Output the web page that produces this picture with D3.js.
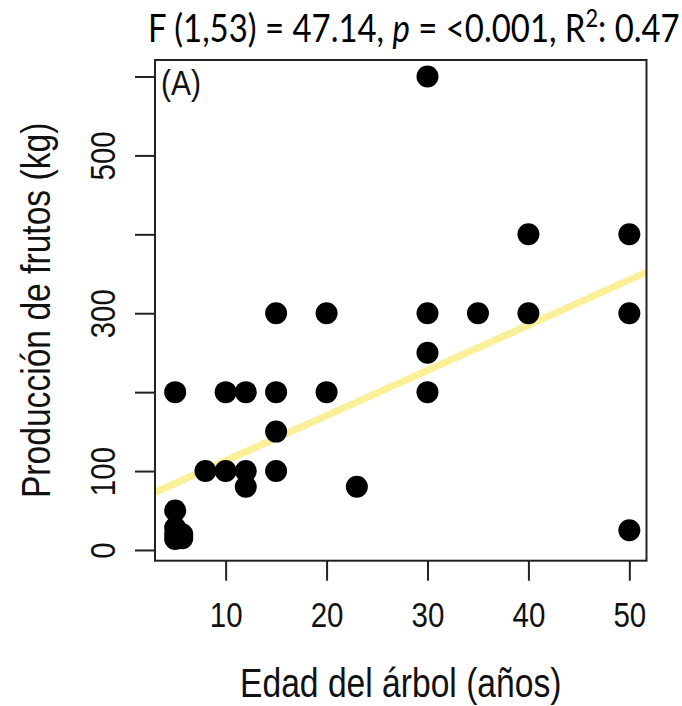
<!DOCTYPE html>
<html>
<head>
<meta charset="utf-8">
<script src="https://cdn.jsdelivr.net/npm/d3@7"></script>
<style>
  body { margin: 0; background: #fff; }
  #container { width: 682px; height: 706px; }
  text { font-family: "Liberation Sans", Arial, sans-serif; fill: #111; }
  text.title { font-family: Lato, "Open Sans", sans-serif; fill: #000; }
</style>
</head>
<body>
<div id="container"></div>
<script>
// tree age (years) and fruit production (kg)
const ages = [30, 40, 50, 15, 20, 30, 35, 40, 50, 30,
              5, 10, 12, 15, 20, 30, 15, 8, 10, 12, 15,
              12, 23, 5, 50, 5, 5, 5, 5.7, 5.7];
const production = [600, 400, 400, 300, 300, 300, 300, 300, 300, 250,
                     200, 200, 200, 200, 200, 200, 150, 100, 100, 100, 100,
                     80, 80, 50, 25, 28, 20, 14, 20, 15];

// fitted line (intercept, slope)
const fitIntercept = 55.7;
const fitSlope = 5.73;

const xTicks = [10, 20, 30, 40, 50];
const yTicks = [0, 100, 200, 300, 400, 500, 600];
const yTickLabels = ["0", "100", "", "300", "", "500", ""];

const xDomain = [3.0, 51.7];
const yDomain = [-13.6, 620.9];

const container = document.getElementById("container");
const canvas_w = 682, canvas_h = 706;
const box = {left: 155, right: 646.5, top: 60, bottom: 560.7};
const narrow = 0.82; // the original labels use a condensed face

var svg = d3.select(container)
    .append("svg")
    .attr("width", canvas_w)
    .attr("height", canvas_h);

let x = d3.scaleLinear().domain(xDomain).range([box.left, box.right]);
let y = d3.scaleLinear().domain(yDomain).range([box.bottom, box.top]);

// axes, R style: long outward ticks
let xAxis = d3.axisBottom(x).tickValues(xTicks).tickSize(20).tickSizeOuter(0);
let gx = svg.append("g")
    .attr("transform", `translate(0,${box.bottom})`)
    .call(xAxis);
gx.select(".domain").remove();
gx.selectAll(".tick line").attr("stroke", "#222").attr("stroke-width", 2);
gx.selectAll(".tick text")
    .attr("y", 66).attr("dy", null)
    .attr("transform", `scale(${narrow},1)`)
    .style("font-size", "36px");

let yAxis = d3.axisLeft(y).tickValues(yTicks).tickSize(20).tickSizeOuter(0)
    .tickFormat((d, i) => yTickLabels[i]);
let gy = svg.append("g")
    .attr("transform", `translate(${box.left},0)`)
    .call(yAxis);
gy.select(".domain").remove();
gy.selectAll(".tick line").attr("stroke", "#222").attr("stroke-width", 2);
gy.selectAll(".tick text")
    .attr("x", null).attr("dy", null)
    .attr("text-anchor", "middle")
    .attr("transform", `translate(-40,0) rotate(-90) scale(${narrow},1)`)
    .style("font-size", "36px");

// clip for the fit line
svg.append("clipPath").attr("id", "plotclip")
    .append("rect")
    .attr("x", box.left).attr("y", box.top)
    .attr("width", box.right - box.left).attr("height", box.bottom - box.top);

let fitLine = d3.line()
    .x(d => x(d))
    .y(d => y(fitIntercept + fitSlope * d));

svg.append("path")
    .datum(xDomain)
    .attr("d", fitLine)
    .attr("clip-path", "url(#plotclip)")
    .attr("fill", "none")
    .attr("stroke", "#FBEF98")
    .attr("stroke-width", 7);

svg.selectAll("circle.pt")
    .data(ages)
    .enter()
    .append("circle")
    .attr("class", "pt")
    .attr("r", 11)
    .attr("cx", d => x(d))
    .attr("cy", (d, i) => y(production[i]))
    .attr("fill", "#000");

// plot box
svg.append("rect")
    .attr("x", box.left).attr("y", box.top)
    .attr("width", box.right - box.left).attr("height", box.bottom - box.top)
    .attr("fill", "none")
    .attr("stroke", "#222")
    .attr("stroke-width", 2);

svg.append("text")
    .attr("transform", `translate(161,95) scale(0.86,1)`)
    .style("font-size", "35px")
    .text("(A)");

// axis titles
svg.append("text")
    .attr("transform", `translate(${(box.left + box.right) / 2},697) scale(${narrow},1)`)
    .attr("text-anchor", "middle")
    .style("font-size", "41px")
    .text("Edad del árbol (años)");

svg.append("text")
    .attr("transform", `translate(50,${(box.top + box.bottom) / 2}) rotate(-90) scale(${narrow},1)`)
    .attr("text-anchor", "middle")
    .style("font-size", "41px")
    .text("Producción de frutos (kg)");

// title with the model statistics, squeezed to the reference width
let title = svg.append("text")
    .attr("class", "title")
    .style("font-size", "38px");
title.append("tspan").text("F (1,53) = 47.14, ");
title.append("tspan").style("font-style", "italic").text("p");
title.append("tspan").text(" = <0.001, R");
title.append("tspan").attr("dy", -15).style("font-size", "25px").text("2");
title.append("tspan").attr("dy", 15).text(": 0.47");
let tw = title.node().getComputedTextLength();
title.attr("transform", `translate(148,42) scale(${532 / tw},1)`);
</script>
</body>
</html>
